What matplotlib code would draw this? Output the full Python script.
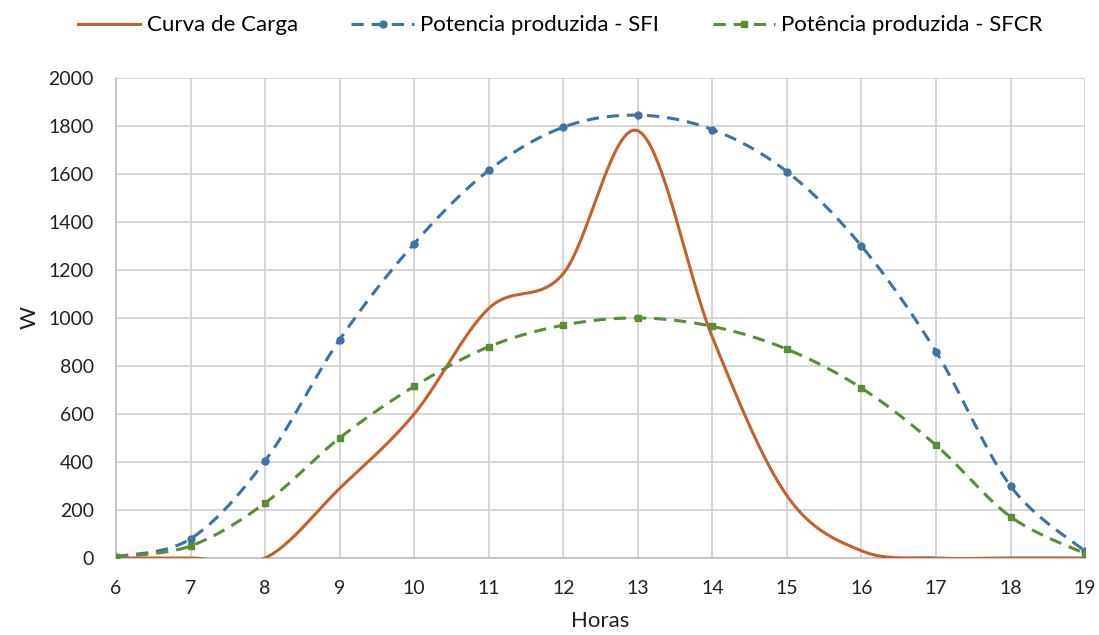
import numpy as np
import matplotlib
matplotlib.use("Agg")
import matplotlib.pyplot as plt

horas = [6, 7, 8, 9, 10, 11, 12, 13, 14, 15, 16, 17, 18, 19]
curva_carga = [0, 0, 0, 290, 600, 1040, 1185, 1780, 920, 260, 30, 0, 0, 0]
pot_sfi = [5, 80, 405, 910, 1310, 1615, 1795, 1845, 1785, 1610, 1300, 860, 300, 28]
pot_sfcr = [5, 50, 229, 500, 715, 880, 970, 1000, 965, 870, 708, 470, 172, 18]
y_ticks = [0, 200, 400, 600, 800, 1000, 1200, 1400, 1600, 1800, 2000]

plt.rcParams['font.family'] = ['Lato', 'DejaVu Sans']


def smooth(xs, ys, n=40):
    xs = np.asarray(xs, float)
    ys = np.asarray(ys, float)
    px = np.concatenate([[xs[0]], xs, [xs[-1]]])
    py = np.concatenate([[ys[0]], ys, [ys[-1]]])
    ox, oy, idx = [], [], []
    t = np.linspace(0, 1, n, endpoint=False)
    for i in range(1, len(px) - 2):
        p0x, p1x, p2x, p3x = px[i - 1], px[i], px[i + 1], px[i + 2]
        p0y, p1y, p2y, p3y = py[i - 1], py[i], py[i + 1], py[i + 2]
        c1x = p1x + (p2x - p0x) / 6
        c1y = p1y + (p2y - p0y) / 6
        c2x = p2x - (p3x - p1x) / 6
        c2y = p2y - (p3y - p1y) / 6
        bx = (1 - t) ** 3 * p1x + 3 * (1 - t) ** 2 * t * c1x + 3 * (1 - t) * t ** 2 * c2x + t ** 3 * p2x
        by = (1 - t) ** 3 * p1y + 3 * (1 - t) ** 2 * t * c1y + 3 * (1 - t) * t ** 2 * c2y + t ** 3 * p2y
        idx.append(len(ox))
        ox.extend(bx)
        oy.extend(by)
    idx.append(len(ox))
    ox.append(xs[-1])
    oy.append(ys[-1])
    return np.array(ox), np.array(oy), idx


fig = plt.figure(figsize=(10.99, 6.35), dpi=100)
ax = fig.add_axes([0.1056, 0.1213, 0.8817, 0.7559])

c_orange = '#C2622A'
c_blue = '#3D72A6'
c_green = '#5B8C3A'

x1, y1, _ = smooth(horas, curva_carga)
ax.plot(x1, y1, color=c_orange, lw=2.2, label='Curva de Carga', zorder=3)

x2, y2, i2 = smooth(horas, pot_sfi)
ax.plot(x2, y2, color=c_blue, lw=2.2, ls=(0, (4, 2.6)), marker='o', ms=5,
        markevery=i2, label='Potencia produzida - SFI', zorder=3)

x3, y3, i3 = smooth(horas, pot_sfcr)
ax.plot(x3, y3, color=c_green, lw=2.2, ls=(0, (4, 2.6)), marker='s', ms=5,
        markevery=i3, label='Potência produzida - SFCR', zorder=3)

ax.set_xlim(6, 19)
ax.set_ylim(0, 2000)
ax.set_xticks(horas)
ax.set_yticks(y_ticks)
ax.grid(True, color='#D0D0D0', lw=1.2)
ax.set_axisbelow(True)
for s in ['top', 'right']:
    ax.spines[s].set_visible(False)
for s in ['left', 'bottom']:
    ax.spines[s].set_color('#BFBFBF')
    ax.spines[s].set_linewidth(1.2)
ax.tick_params(axis='y', length=0, pad=16, labelsize=14, colors='#222222')
ax.tick_params(axis='x', length=0, pad=16, labelsize=14, colors='#222222')
ax.set_xlabel('Horas', fontsize=16, color='#222222', labelpad=10)
ax.set_ylabel('W', fontsize=16, color='#222222', labelpad=6)

fig.legend(loc='center', bbox_to_anchor=(0.51, 0.96), ncol=3, frameon=False,
           fontsize=16, handlelength=2.8, columnspacing=2.4, handletextpad=0.3)

fig.savefig('out.png', dpi=100)
